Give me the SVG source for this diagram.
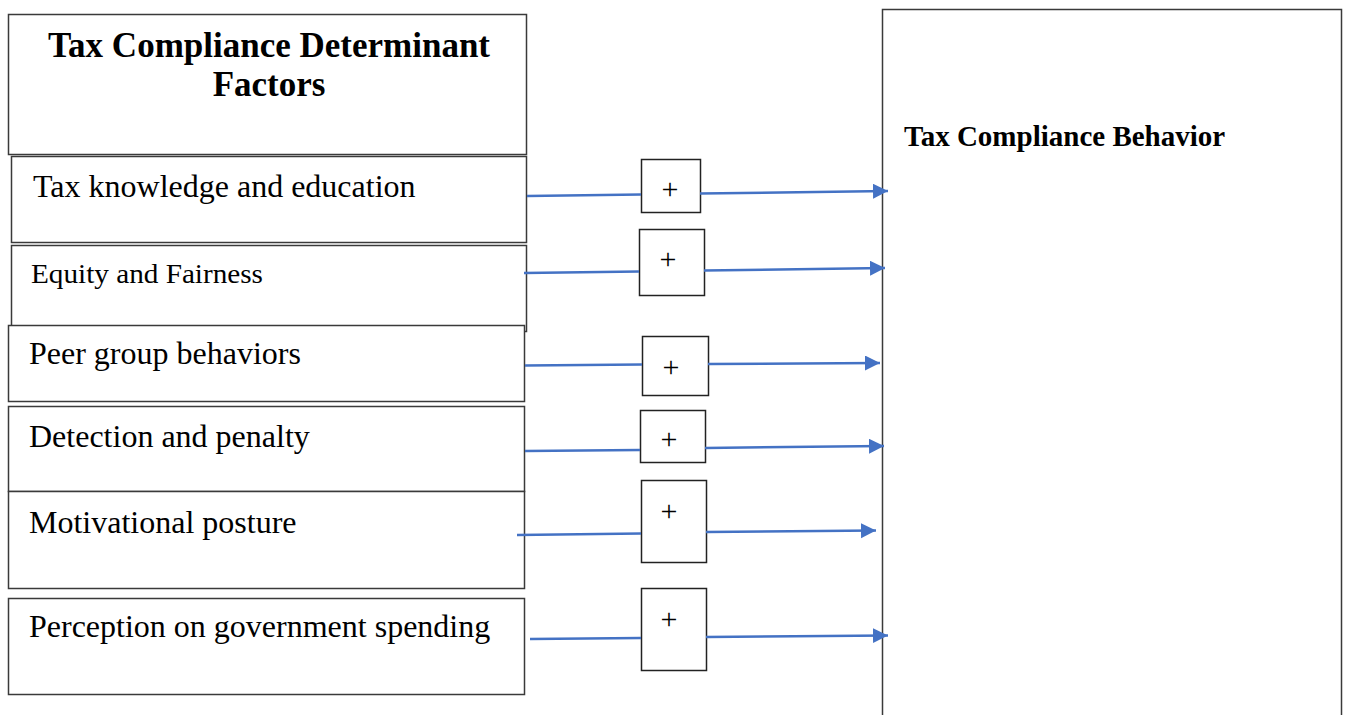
<svg xmlns="http://www.w3.org/2000/svg" width="1349" height="715" viewBox="0 0 1349 715">
<style>
.box{fill:#fff;stroke:#3a3a3a;stroke-width:1.5}
.pbox{fill:#fff;stroke:#222;stroke-width:1.5}
.lbl{font-family:"Liberation Serif","Times New Roman",serif;font-size:32px;fill:#000}
.lbl.sm{font-size:27px}
.ttl{font-family:"Liberation Serif","Times New Roman",serif;font-weight:bold;fill:#000}
.plus{font-family:"Liberation Serif","Times New Roman",serif;font-size:30px;fill:#000;text-anchor:middle}
.conn{stroke:#4472C4;stroke-width:2.5;fill:none}
</style>
<defs>
<marker id="arr" markerUnits="userSpaceOnUse" markerWidth="16" markerHeight="16" refX="15" refY="7.5" orient="auto">
<path d="M0,0 L15,7.5 L0,15 Z" fill="#4472C4"/>
</marker>
</defs>
<rect width="1349" height="715" fill="#fff"/>
<g id="header">
<rect class="box" x="8.5" y="14.5" width="518" height="140"/>
<text class="ttl" x="269" y="57" font-size="35" text-anchor="middle">Tax Compliance Determinant</text>
<text class="ttl" x="269" y="96" font-size="35" text-anchor="middle">Factors</text>
</g>
<g id="f1">
<rect class="box" x="11.5" y="156.5" width="515" height="86"/>
<text class="lbl" x="33" y="197">Tax knowledge and education</text>
</g>
<g id="f2">
<rect class="box" x="11.5" y="245.5" width="515" height="86"/>
<text class="lbl sm" x="31" y="283" textLength="232" lengthAdjust="spacingAndGlyphs">Equity and Fairness</text>
</g>
<g id="f3">
<rect class="box" x="8.5" y="325.5" width="516" height="76"/>
<text class="lbl" x="29" y="364">Peer group behaviors</text>
</g>
<g id="f4">
<rect class="box" x="8.5" y="406.5" width="516" height="85"/>
<text class="lbl" x="29" y="447">Detection and penalty</text>
</g>
<g id="f5">
<rect class="box" x="8.5" y="491.5" width="516" height="97"/>
<text class="lbl" x="29" y="533">Motivational posture</text>
</g>
<g id="f6">
<rect class="box" x="8.5" y="598.5" width="516" height="96"/>
<text class="lbl" x="29" y="637">Perception on government spending</text>
</g>
<g id="outcome">
<rect class="box" x="882.5" y="9.5" width="459" height="720"/>
<text class="ttl" x="904" y="146" font-size="29">Tax Compliance Behavior</text>
</g>
<g id="p1"><rect class="pbox" x="641.5" y="159.5" width="59" height="53"/><text class="plus" x="670" y="199">+</text></g>
<g id="p2"><rect class="pbox" x="639.5" y="229.5" width="65" height="66"/><text class="plus" x="668" y="269">+</text></g>
<g id="p3"><rect class="pbox" x="642.5" y="336.5" width="66" height="59"/><text class="plus" x="671" y="377">+</text></g>
<g id="p4"><rect class="pbox" x="640.5" y="410.5" width="65" height="52"/><text class="plus" x="669" y="449">+</text></g>
<g id="p5"><rect class="pbox" x="641.5" y="480.5" width="65" height="82"/><text class="plus" x="669" y="521">+</text></g>
<g id="p6"><rect class="pbox" x="641.5" y="588.5" width="65" height="82"/><text class="plus" x="669" y="629">+</text></g>
<g id="connectors">
<line class="conn" x1="527" y1="196" x2="641" y2="194.5"/>
<line class="conn" x1="700" y1="193.5" x2="888" y2="191" marker-end="url(#arr)"/>
<line class="conn" x1="524" y1="273" x2="639" y2="271.5"/>
<line class="conn" x1="704" y1="270.5" x2="885" y2="268" marker-end="url(#arr)"/>
<line class="conn" x1="525" y1="365.5" x2="642" y2="364.5"/>
<line class="conn" x1="708" y1="364" x2="880" y2="363" marker-end="url(#arr)"/>
<line class="conn" x1="525" y1="451" x2="640" y2="450"/>
<line class="conn" x1="705" y1="448" x2="884" y2="446" marker-end="url(#arr)"/>
<line class="conn" x1="517" y1="535" x2="641" y2="533.5"/>
<line class="conn" x1="706" y1="532" x2="876" y2="530.5" marker-end="url(#arr)"/>
<line class="conn" x1="530" y1="639" x2="641" y2="638"/>
<line class="conn" x1="706" y1="637" x2="888" y2="635.5" marker-end="url(#arr)"/>
</g>
</svg>
